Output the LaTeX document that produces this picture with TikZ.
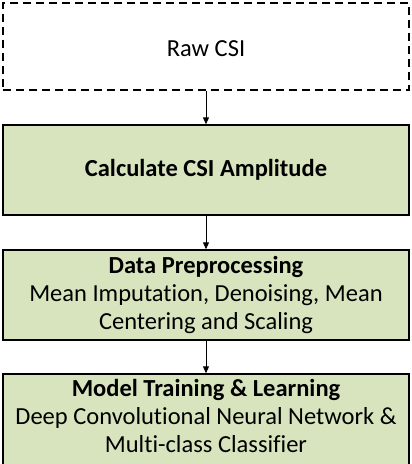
\documentclass[tikz,border=0pt]{standalone}
\usepackage{fontspec}
\setmainfont[Ligatures=NoCommon]{Carlito}
\usetikzlibrary{arrows.meta}
\definecolor{boxgreen}{HTML}{D7E4BD}
\begin{document}
\begin{tikzpicture}[x=1pt,y=-1pt,
  stage/.style={draw=black, line width=1.4pt, fill=boxgreen, minimum width=406pt, minimum height=90pt, inner sep=0pt},
  rawbox/.style={draw=black, line width=1.5pt, dash pattern=on 8pt off 5pt, minimum width=406pt, minimum height=87pt, inner sep=0pt},
  txt/.style={font=\fontsize{24.5}{28}\selectfont, align=center, inner sep=0pt},
  flow/.style={draw=black, line width=0.9pt, -{Triangle[width=6pt,length=7pt]}}]
\useasboundingbox (0,0) rectangle (412,464);
\node[rawbox] (raw) at (206,46.5) {};
\node[stage] (amp) at (206,170) {};
\node[stage] (pre) at (206,295) {};
\node[stage, minimum height=94pt] (model) at (206,421) {};
\node[txt] (t1) at (206,49) {Raw CSI};
\node[txt] (t2) at (206,170) {\textbf{Calculate CSI Amplitude}};
\node[txt] (t3) at (206,295) {\textbf{Data Preprocessing}\\Mean Imputation, Denoising, Mean\\Centering and Scaling};
\node[txt] (t4) at (206,416) {\textbf{Model Training \& Learning}\\Deep Convolutional Neural Network \&\\Multi-class Classifier};
\draw[flow] (raw.south) -- (amp.north);
\draw[flow] (amp.south) -- (pre.north);
\draw[flow] (pre.south) -- (model.north);
\end{tikzpicture}
\end{document}
